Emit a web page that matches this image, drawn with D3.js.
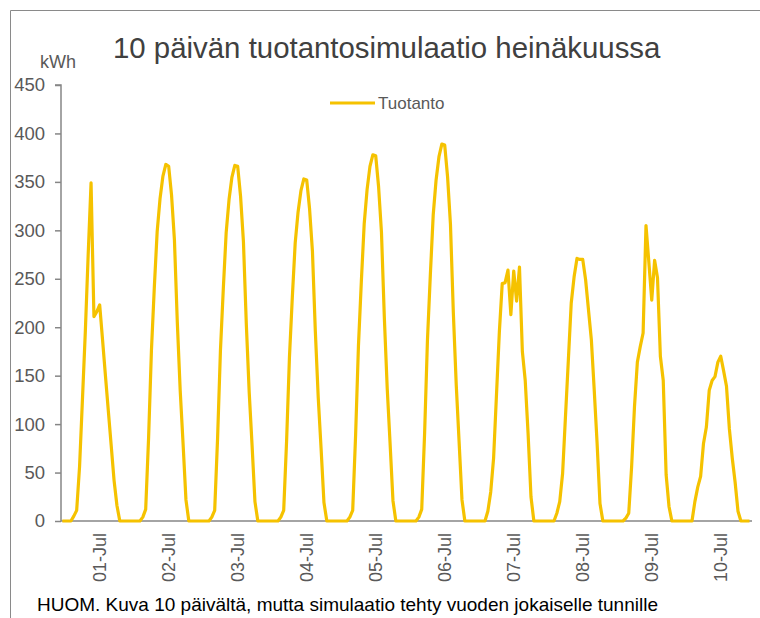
<!DOCTYPE html>
<html>
<head>
<meta charset="utf-8">
<script src="https://cdn.jsdelivr.net/npm/d3@7"></script>
<style>
  html, body { margin: 0; padding: 0; background: #fff; }
  svg { display: block; font-family: "Liberation Sans", Arial, sans-serif; }
</style>
</head>
<body>
<svg id="chart" width="760" height="618"></svg>
<script>
// ---- data (hourly production, kWh) ----
const dayLabels = ["01-Jul","02-Jul","03-Jul","04-Jul","05-Jul","06-Jul","07-Jul","08-Jul","09-Jul","10-Jul"];
const day01 = [0,0,0,0,5,11,56,125,195,275,349,211,216,223,187,150,114,78,42,16,0,0,0,0];
const day02 = [0,0,0,0,4,12,85,176,241,299,333,356,368,366,336,290,205,135,80,22,0,0,0,0];
const day03 = [0,0,0,0,4,11,85,176,240,298,332,355,367,366,335,288,203,133,78,20,0,0,0,0];
const day04 = [0,0,0,0,4,11,82,169,231,287,319,341,353,352,322,278,196,128,75,19,0,0,0,0];
const day05 = [0,0,0,0,4,11,88,181,247,307,342,366,378,377,345,298,210,137,80,21,0,0,0,0];
const day06 = [0,0,0,0,4,12,90,187,254,316,352,376,389,388,355,306,215,141,82,22,0,0,0,0];
const day07 = [0,0,0,0,10,30,65,130,195,245,246,259,213,258,227,262,175,145,90,25,0,0,0,0];
const day08 = [0,0,0,0,8,20,49,108,166,225,252,271,270,270,249,218,187,135,80,18,0,0,0,0];
const day09 = [0,0,0,0,3,8,56,118,164,180,194,305,267,228,269,251,170,145,48,15,0,0,0,0];
const day10 = [0,0,0,0,20,35,46,80,97,135,145,149,164,170,155,139,95,65,40,10,0,0,0,0];
const yTicks = [0,50,100,150,200,250,300,350,400,450];
const seriesName = "Tuotanto";
const titleText = "10 päivän tuotantosimulaatio heinäkuussa";
const unitText = "kWh";
const noteText = "HUOM. Kuva 10 päivältä, mutta simulaatio tehty vuoden jokaiselle tunnille";

const production = [day01,day02,day03,day04,day05,day06,day07,day08,day09,day10].flat();
const points = production.map((v, i) => ({ i, v }));

// ---- layout ----
const svg = d3.select("#chart");
const lineColor = "#F5C200";
const axisColor = "#868686";
const textColor = "#595959";

const x = d3.scaleLinear().domain([0, production.length - 1]).range([62.3, 749.5]);
const y = d3.scaleLinear().domain([0, 450]).range([521, 85]);

// outer frame (top + left)
svg.append("path")
  .attr("d", "M10.5,618 L10.5,10.5 L760,10.5")
  .attr("fill", "none").attr("stroke", "#8a8a8a").attr("stroke-width", 1);

// title
svg.append("text").attr("x", 113).attr("y", 58)
  .attr("font-size", 29.4).attr("fill", "#404040").text(titleText);

// unit
svg.append("text").attr("x", 40).attr("y", 68)
  .attr("font-size", 18).attr("fill", textColor).text(unitText);

// y axis
const yAxis = svg.append("g").attr("transform", "translate(61,0)")
  .call(d3.axisLeft(y).tickValues(yTicks).tickSize(6).tickPadding(10).tickFormat(d3.format("d")));
yAxis.select(".domain").attr("stroke", axisColor).attr("stroke-width", 1.5).attr("d", "M-6,85H0V521");
yAxis.selectAll(".tick line").attr("stroke", axisColor).attr("stroke-width", 1.5);
yAxis.selectAll(".tick text").attr("font-size", 18.5).attr("fill", textColor)
  .attr("font-family", "Liberation Sans, Arial, sans-serif");

// x axis line
svg.append("line").attr("x1", 61).attr("x2", 752).attr("y1", y(0)).attr("y2", y(0))
  .attr("stroke", axisColor).attr("stroke-width", 1.5);

// x labels (rotated)
svg.append("g").selectAll("text").data(dayLabels).join("text")
  .attr("transform", (d, k) => `translate(${x(k * 24 + 13)},533) rotate(-90)`)
  .attr("text-anchor", "end").attr("dominant-baseline", "central")
  .attr("font-size", 18).attr("fill", textColor).text(d => d);

// line
const line = d3.line().x(d => x(d.i)).y(d => y(d.v));
svg.append("path").datum(points)
  .attr("d", line).attr("fill", "none").attr("stroke", lineColor)
  .attr("stroke-width", 3.2).attr("stroke-linejoin", "round");

// legend
svg.append("line").attr("x1", 330).attr("x2", 375).attr("y1", 103).attr("y2", 103)
  .attr("stroke", lineColor).attr("stroke-width", 3.2);
svg.append("text").attr("x", 378).attr("y", 109)
  .attr("font-size", 17).attr("fill", textColor).text(seriesName);

// footnote
svg.append("text").attr("x", 37).attr("y", 611)
  .attr("font-size", 19).attr("fill", "#000").text(noteText);
</script>
</body>
</html>
